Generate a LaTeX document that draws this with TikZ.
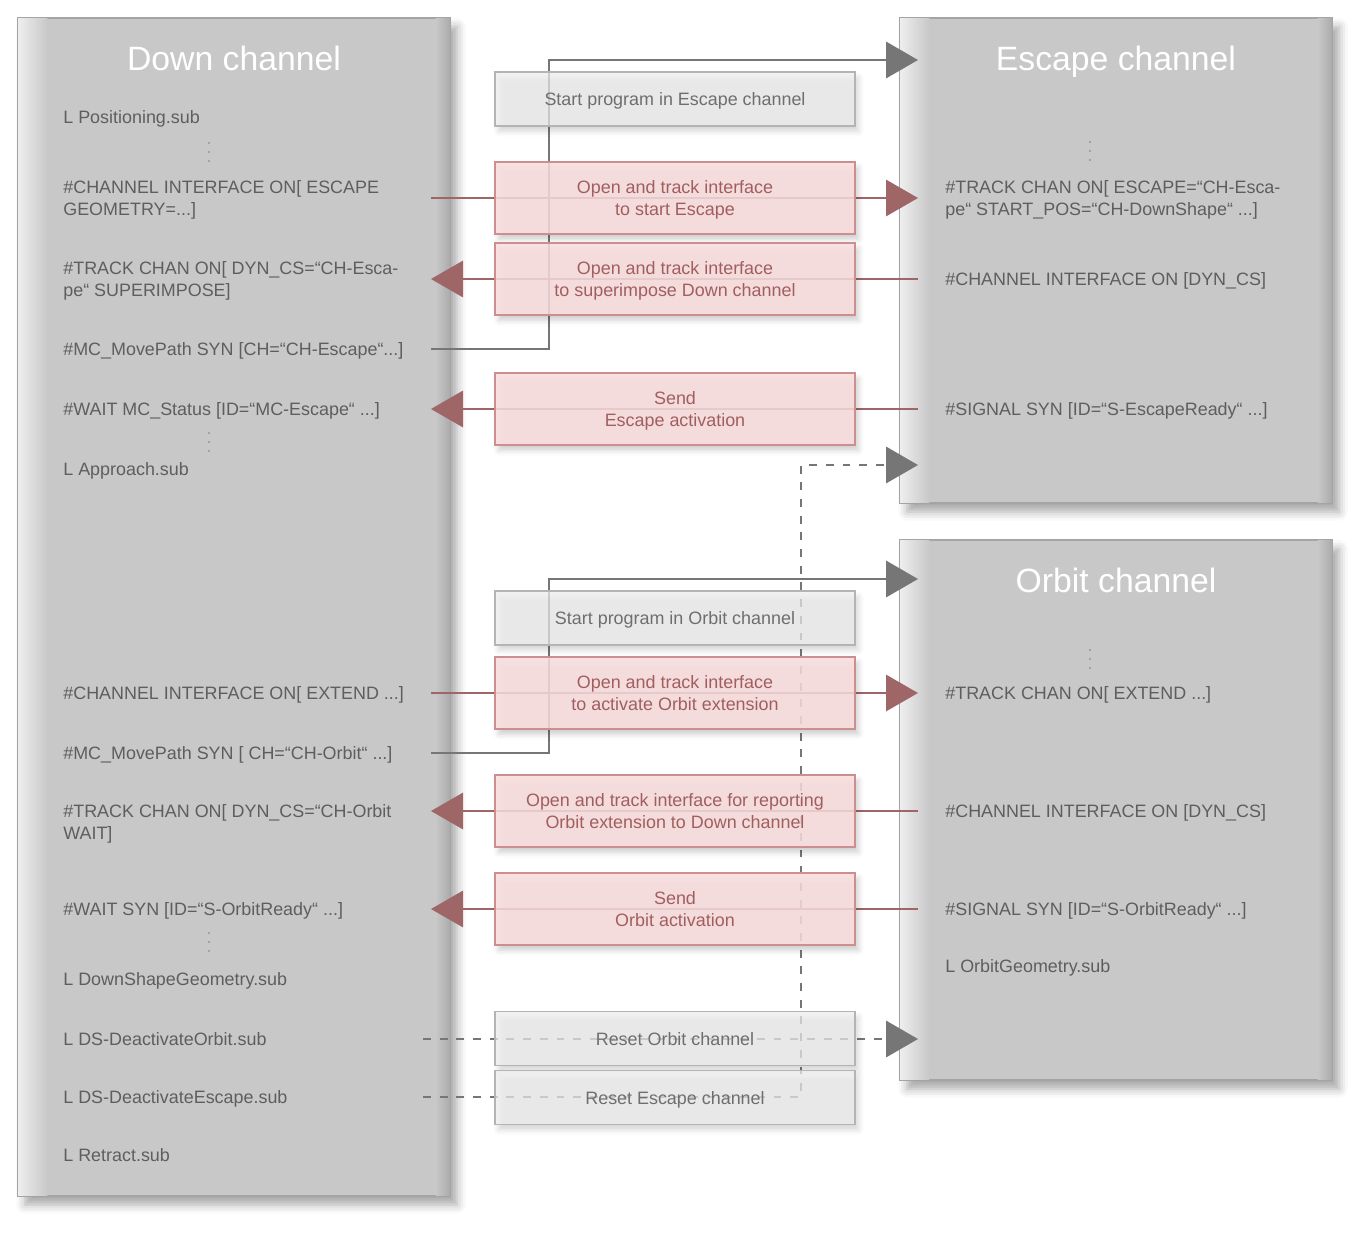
\documentclass[tikz,border=0pt]{standalone}
\usepackage{fontspec}
\setmainfont{Liberation Sans}
\usetikzlibrary{arrows.meta,shadows.blur}
\definecolor{chgray}{HTML}{C8C8C8}
\definecolor{chline}{HTML}{A4A4A4}
\definecolor{chlight}{HTML}{EEEEEE}
\definecolor{chdark}{HTML}{ABABAB}
\definecolor{txtgray}{HTML}{5E5E5E}
\definecolor{pinkfill}{HTML}{FADEDE}
\definecolor{pinkline}{HTML}{CC8E8E}
\definecolor{pinktxt}{HTML}{A25E5E}
\definecolor{sigred}{HTML}{9E6666}
\definecolor{boxfill}{HTML}{EFEFEF}
\definecolor{boxline}{HTML}{B4B4B4}
\definecolor{cmdgray}{HTML}{767676}
\tikzset{
  chan/.style={draw=chline, line width=0.8pt, fill=chgray, minimum width=8.64cm, inner sep=0pt,
    blur shadow={shadow xshift=4pt, shadow yshift=-5pt, shadow blur radius=5pt, shadow opacity=35}},
  chtitle/.style={text=white, text depth=0pt, font=\fontsize{19.2}{22}\selectfont},
  code/.style={anchor=west, align=left, text=txtgray, inner sep=0pt, text depth=0pt, font=\fontsize{10.2}{12.2}\selectfont},
  msg/.style={draw=pinkline, line width=0.7pt, fill=pinkfill, fill opacity=0.85, text opacity=1, text=pinktxt,
    minimum width=7.2cm, minimum height=1.44cm, align=center, text depth=0pt, font=\fontsize{10.2}{12.2}\selectfont,
    blur shadow={shadow xshift=2pt, shadow yshift=-3pt, shadow blur radius=3pt, shadow opacity=22}},
  act/.style={msg, draw=boxline, fill=boxfill, fill opacity=0.72, text=txtgray!90, minimum height=1.08cm},
  sig/.style={sigred, line width=0.8pt, -{Triangle[length=0.64cm, width=0.73cm]}},
  cmd/.style={cmdgray, line width=1.1pt, -{Triangle[length=0.64cm, width=0.73cm]}},
  reset/.style={cmd, dash pattern=on 4.5pt off 5pt}
}
\begin{document}
\begin{tikzpicture}[x=0.02cm, y=-0.02cm]
  \useasboundingbox (0,0) rectangle (1368,1233); % 画布
  % 通道框
  \node[chan, minimum height=23.56cm] (down) at (234,607) {};
  \node[chan, minimum height=9.7cm] (esc) at (1116,260.5) {};
  \node[chan, minimum height=10.8cm] (orb) at (1116,810) {};
  \foreach \c in {down,esc,orb} {
    \shade[left color=chlight, right color=chgray] ([xshift=0.4pt,yshift=-0.4pt]\c.north west) rectangle ([xshift=0.6cm,yshift=0.4pt]\c.south west); % 左侧高光
    \shade[left color=chgray, right color=chdark] ([xshift=-0.3cm,yshift=-0.4pt]\c.north east) rectangle ([xshift=-0.4pt,yshift=0.4pt]\c.south east); % 右侧阴影
  }
  \node[chtitle] (downT) at (234,58) {Down channel};
  \node[chtitle] (escT) at (1116,58) {Escape channel};
  \node[chtitle] (orbT) at (1116,580) {Orbit channel};
  % 省略号
  \foreach \x/\y in {209/152, 209/442, 209/942, 1090/151, 1090/659}
    \foreach \d in {-9,0,9}
      \fill[txtgray!65] (\x,\y+\d) circle[radius=0.65pt];
  % Down channel 程序
  \node[code] (dpos) at (63,117) {L Positioning.sub};
  \node[code] (dci) at (63,198) {\#CHANNEL INTERFACE ON[ ESCAPE\\GEOMETRY=...]};
  \node[code] (dtc) at (63,279) {\#TRACK CHAN ON[ DYN\_CS=“CH-Esca-\\pe“ SUPERIMPOSE]};
  \node[code] (dmp) at (63,349) {\#MC\_MovePath SYN [CH=“CH-Escape“...]};
  \node[code] (dwait) at (63,409) {\#WAIT MC\_Status [ID=“MC-Escape“ ...]};
  \node[code] (dapp) at (63,469) {L Approach.sub};
  \node[code] (dci2) at (63,693) {\#CHANNEL INTERFACE ON[ EXTEND ...]};
  \node[code] (dmp2) at (63,753) {\#MC\_MovePath SYN [ CH=“CH-Orbit“ ...]};
  \node[code] (dtc2) at (63,822) {\#TRACK CHAN ON[ DYN\_CS=“CH-Orbit\\WAIT]};
  \node[code] (dwait2) at (63,909) {\#WAIT SYN [ID=“S-OrbitReady“ ...]};
  \node[code] (dgeo) at (63,979) {L DownShapeGeometry.sub};
  \node[code] (ddo) at (63,1039) {L DS-DeactivateOrbit.sub};
  \node[code] (dde) at (63,1097) {L DS-DeactivateEscape.sub};
  \node[code] (dret) at (63,1155) {L Retract.sub};
  % Escape channel 程序
  \node[code] (etc) at (945,198) {\#TRACK CHAN ON[ ESCAPE=“CH-Esca-\\pe“ START\_POS=“CH-DownShape“ ...]};
  \node[code] (eci) at (945,279) {\#CHANNEL INTERFACE ON [DYN\_CS]};
  \node[code] (esig) at (945,409) {\#SIGNAL SYN [ID=“S-EscapeReady“ ...]};
  % Orbit channel 程序
  \node[code] (otc) at (945,693) {\#TRACK CHAN ON[ EXTEND ...]};
  \node[code] (oci) at (945,811) {\#CHANNEL INTERFACE ON [DYN\_CS]};
  \node[code] (osig) at (945,909) {\#SIGNAL SYN [ID=“S-OrbitReady“ ...]};
  \node[code] (ogeo) at (945,966) {L OrbitGeometry.sub};
  % 连线端点
  \coordinate (dx) at (431,0); % 左端
  \coordinate (rx) at (423,0); % 虚线左端
  \coordinate (ex) at (918,0); % 箭头尖
  \coordinate (ka) at (549,60);
  \coordinate (kb) at (549,579);
  \coordinate (kc) at (801,465);
  % 连线
  \draw[cmd] (dx |- dmp) -| (ka) -- (ex |- ka);
  \draw[sig] (dx |- dci) -- (ex |- etc);
  \draw[sig] (ex |- eci) -- (dx |- eci);
  \draw[sig] (ex |- esig) -- (dx |- esig);
  \draw[reset] (rx |- dde) -| (kc) -- (ex |- kc);
  \draw[cmd] (dx |- dmp2) -| (kb) -- (ex |- kb);
  \draw[sig] (dx |- dci2) -- (ex |- otc);
  \draw[sig] (ex |- oci) -- (dx |- oci);
  \draw[sig] (ex |- osig) -- (dx |- osig);
  \draw[reset] (rx |- ddo) -- (ex |- ddo);
  % 中间说明框
  \node[act] (sEsc) at (675,99) {Start program in Escape channel};
  \node[msg] (oEsc) at (675,198) {Open and track interface\\to start Escape};
  \node[msg] (sup) at (675,279) {Open and track interface\\to superimpose Down channel};
  \node[msg] (sendE) at (675,409) {Send\\Escape activation};
  \node[act] (sOrb) at (675,618) {Start program in Orbit channel};
  \node[msg] (oOrb) at (675,693) {Open and track interface\\to activate Orbit extension};
  \node[msg] (rep) at (675,811) {Open and track interface for reporting\\Orbit extension to Down channel};
  \node[msg] (sendO) at (675,909) {Send\\Orbit activation};
  \node[act] (rOrb) at (675,1038.5) {Reset Orbit channel};
  \node[act] (rEsc) at (675,1097.5) {Reset Escape channel};
\end{tikzpicture}
\end{document}
